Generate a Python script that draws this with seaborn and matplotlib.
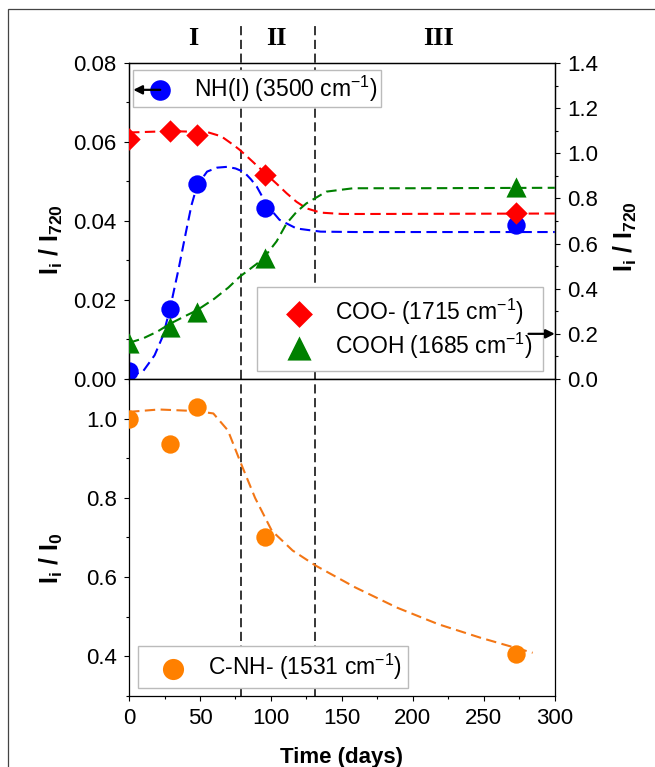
import numpy as np
import pandas as pd
import matplotlib
matplotlib.use("Agg")
import matplotlib.pyplot as plt
import seaborn as sns
from matplotlib.patches import Rectangle
from matplotlib.ticker import MultipleLocator, FormatStrFormatter

# ---------------- data ----------------
days = [0, 29, 48, 96, 273]
nh_3500 = [0.0020, 0.0177, 0.0493, 0.0433, 0.0390]      # left axis
coo_1715 = [1.063, 1.099, 1.081, 0.904, 0.735]          # right axis
cooh_1685 = [0.160, 0.230, 0.297, 0.536, 0.852]         # right axis
cnh_1531 = [1.000, 0.937, 1.030, 0.702, 0.407]          # bottom panel

# fitted (dashed) curves, read point by point
nh_fit_days = [0, 10, 18, 24, 29, 35, 40, 44, 48, 55, 62, 69, 75, 81, 86, 90, 97, 106, 118, 135, 160, 300]
nh_fit = [0.0005, 0.002, 0.006, 0.011, 0.018, 0.028, 0.037, 0.044, 0.049, 0.0525, 0.0535, 0.0537,
          0.0533, 0.0524, 0.0505, 0.0487, 0.0441, 0.0403, 0.0381, 0.0373, 0.0372, 0.0372]
coo_fit_days = [0, 29, 55, 65, 73.5, 78, 85, 96, 104, 111, 118, 125, 135, 150, 170, 300]
coo_fit = [1.092, 1.098, 1.094, 1.075, 1.037, 1.015, 0.975, 0.911, 0.865, 0.823, 0.785, 0.756,
           0.737, 0.731, 0.731, 0.733]
cooh_fit_days = [0, 10, 20, 29, 40, 48, 60, 70, 78, 90, 96, 104, 111, 118, 125, 139, 158, 200, 300]
cooh_fit = [0.160, 0.180, 0.210, 0.245, 0.280, 0.305, 0.355, 0.405, 0.453, 0.510, 0.545, 0.610,
            0.689, 0.740, 0.778, 0.830, 0.845, 0.845, 0.847]
cnh_fit_days = [0, 21, 47.6, 59.4, 69.7, 78.5, 88.8, 100.6, 115.3, 131.5, 159.4, 188.8, 218, 247.6, 284.4]
cnh_fit = [1.017, 1.023, 1.019, 1.013, 0.970, 0.890, 0.800, 0.717, 0.667, 0.629, 0.574, 0.523,
           0.481, 0.447, 0.409]

stage_bounds = [79, 131]
stage_labels = ["I", "II", "III"]
stage_label_x = [45, 104, 218]

labels = ["NH(I) (3500 cm$^{-1}$)", "COO- (1715 cm$^{-1}$)",
          "COOH (1685 cm$^{-1}$)", "C-NH- (1531 cm$^{-1}$)"]

# ---------------- style ----------------
sns.set_theme(style="white")
plt.rcParams.update({
    "font.family": ["Liberation Sans", "DejaVu Sans"],
    "mathtext.fontset": "custom",
    "mathtext.rm": "Liberation Sans",
    "mathtext.it": "Liberation Sans:italic",
    "mathtext.bf": "Liberation Sans:bold",
    "mathtext.default": "regular",
    "axes.edgecolor": "black",
    "axes.linewidth": 0.9,
    "xtick.direction": "out",
    "ytick.direction": "out",
    "xtick.major.size": 3.8,
    "ytick.major.size": 3.8,
    "xtick.minor.size": 2.5,
    "ytick.minor.size": 2.5,
    "xtick.major.width": 0.8,
    "ytick.major.width": 0.8,
    "xtick.minor.width": 0.8,
    "ytick.minor.width": 0.8,
    "xtick.color": "black",
    "ytick.color": "black",
    "xtick.labelsize": 16,
    "ytick.labelsize": 16,
    "xtick.major.pad": 5,
    "ytick.major.pad": 5,
    "axes.labelcolor": "black",
    "text.color": "black",
})

BLUE = "#0000FF"
RED = "#FF0000"
GREEN = "#008000"
ORANGE = "#FF8000"
ORANGE_LINE = "#F37615"
DASH = (0, (5, 2.6))
LEG_FS = 16.5

fig = plt.figure(figsize=(6.55, 7.67), dpi=100)
ax1 = fig.add_axes([0.197, 0.5059, 0.650, 0.412])
ax3 = fig.add_axes([0.197, 0.0926, 0.650, 0.4133])
ax2 = ax1.twinx()

# outer frame of the figure panel
fig.patches.append(Rectangle((8 / 655, -0.5), 2, 1.5 - 9 / 767, transform=fig.transFigure,
                             fill=False, edgecolor="#444444", lw=0.9))

# ---------------- top panel ----------------
sns.lineplot(x=nh_fit_days, y=nh_fit, ax=ax1, color=BLUE, lw=1.5, linestyle=DASH,
             sort=False, estimator=None, zorder=2)
sns.scatterplot(x=days, y=nh_3500, ax=ax1, color=BLUE, marker="o", s=175, linewidth=0,
                zorder=3, label=labels[0], legend=False)
h_nh = ax1.collections[-1]

sns.lineplot(x=coo_fit_days, y=coo_fit, ax=ax2, color=RED, lw=1.5, linestyle=DASH,
             sort=False, estimator=None, zorder=2)
sns.lineplot(x=cooh_fit_days, y=cooh_fit, ax=ax2, color=GREEN, lw=1.5, linestyle=DASH,
             sort=False, estimator=None, zorder=2)
sns.scatterplot(x=days, y=coo_1715, ax=ax2, color=RED, marker="D", s=130, linewidth=0,
                zorder=3, label=labels[1], legend=False)
h_coo = ax2.collections[-1]
sns.scatterplot(x=days, y=cooh_1685, ax=ax2, color=GREEN, marker="^", s=210, linewidth=0,
                zorder=3, label=labels[2], legend=False)
h_cooh = ax2.collections[-1]

ax1.set_xlim(0, 300)
ax1.set_ylim(0, 0.08)
ax2.set_ylim(0, 1.4)
ax1.xaxis.set_major_locator(MultipleLocator(50))
ax1.xaxis.set_minor_locator(MultipleLocator(25))
ax1.yaxis.set_major_locator(MultipleLocator(0.02))
ax1.yaxis.set_minor_locator(MultipleLocator(0.01))
ax1.yaxis.set_major_formatter(FormatStrFormatter("%.2f"))
ax2.yaxis.set_major_locator(MultipleLocator(0.2))
ax2.yaxis.set_minor_locator(MultipleLocator(0.1))
ax2.yaxis.set_major_formatter(FormatStrFormatter("%.1f"))
ax1.tick_params(axis="x", which="both", bottom=True, top=False, labelbottom=False)
ax1.tick_params(axis="y", which="both", left=True, right=False)
ax2.tick_params(axis="y", which="both", left=False, right=True)
for a in (ax1, ax2):
    a.grid(False)
    for sp in a.spines.values():
        sp.set_color("black")
        sp.set_linewidth(0.9)

ax1.set_xlabel("")
ax1.set_ylabel(r"$\mathbf{I_i\ /\ I_{720}}$", fontsize=18)
ax1.yaxis.set_label_coords(-0.15, 0.44)
ax2.set_ylabel(r"$\mathbf{I_i\ /\ I_{720}}$", fontsize=18)
ax2.yaxis.set_label_coords(1.134, 0.45)

leg1 = ax1.legend(handles=[h_nh], labels=[labels[0]], loc="upper left",
                  bbox_to_anchor=(0.009, 0.978), borderaxespad=0, borderpad=0.15,
                  handlelength=2.06, handletextpad=0.45, fontsize=LEG_FS, markerscale=1.12,
                  frameon=True, fancybox=False, edgecolor="#BBBBBB", framealpha=1)
leg1.get_frame().set_linewidth(1.0)
leg2 = ax2.legend(handles=[h_coo, h_cooh], labels=[labels[1], labels[2]], loc="lower left",
                  bbox_to_anchor=(0.30, 0.025), borderaxespad=0, borderpad=0.45,
                  labelspacing=0.15, handlelength=2.8, handletextpad=0.15, fontsize=LEG_FS,
                  markerscale=1.2, frameon=True, fancybox=False, edgecolor="#BBBBBB",
                  framealpha=1)
leg2.get_frame().set_linewidth(1.0)

# arrows pointing to the relevant axis
ax1.annotate("", xy=(3, 0.0732), xytext=(22, 0.0732),
             arrowprops=dict(arrowstyle="-|>", color="black", lw=1.6, mutation_scale=13,
                             shrinkA=0, shrinkB=0), zorder=8, annotation_clip=False)
ax2.annotate("", xy=(300, 0.2), xytext=(281.5, 0.2),
             arrowprops=dict(arrowstyle="-|>", color="black", lw=1.6, mutation_scale=13,
                             shrinkA=0, shrinkB=0), zorder=8, annotation_clip=False)

# ---------------- bottom panel ----------------
sns.lineplot(x=cnh_fit_days, y=cnh_fit, ax=ax3, color=ORANGE_LINE, lw=1.5, linestyle=DASH,
             sort=False, estimator=None, zorder=2)
sns.scatterplot(x=days, y=cnh_1531, ax=ax3, color=ORANGE, marker="o", s=175, linewidth=0,
                zorder=3, label=labels[3], legend=False)
h_cnh = ax3.collections[-1]
ax3.set_xlim(0, 300)
ax3.set_ylim(0.3, 1.1)
ax3.xaxis.set_major_locator(MultipleLocator(50))
ax3.xaxis.set_minor_locator(MultipleLocator(25))
ax3.set_yticks([0.4, 0.6, 0.8, 1.0])
ax3.yaxis.set_minor_locator(MultipleLocator(0.1))
ax3.yaxis.set_major_formatter(FormatStrFormatter("%.1f"))
ax3.tick_params(axis="x", which="both", bottom=True, top=False)
ax3.tick_params(axis="y", which="both", left=True, right=False)
ax3.grid(False)
for sp in ax3.spines.values():
    sp.set_color("black")
    sp.set_linewidth(0.9)
ax3.set_xlabel("Time (days)", fontsize=16, fontweight="bold")
ax3.xaxis.set_label_coords(0.5, -0.16)
ax3.set_ylabel(r"$\mathbf{I_i\ /\ I_0}$", fontsize=18)
ax3.yaxis.set_label_coords(-0.15, 0.435)

leg3 = ax3.legend(handles=[h_cnh], labels=[labels[3]], loc="lower left",
                  bbox_to_anchor=(0.021, 0.025), borderaxespad=0, borderpad=0.25,
                  handlelength=2.56, handletextpad=0.25, fontsize=LEG_FS, markerscale=1.15,
                  frameon=True, fancybox=False, edgecolor="#BBBBBB", framealpha=1)
leg3.get_frame().set_linewidth(1.0)

# ---------------- stage boundaries ----------------
for xb in stage_bounds:
    ax1.axvline(xb, ymin=0, ymax=1.123, color="black", lw=1.1, linestyle=(0, (6, 3)),
                clip_on=False, zorder=1)
    ax3.axvline(xb, ymin=0, ymax=1, color="black", lw=1.1, linestyle=(0, (6, 3)), zorder=1)

for xs, txt in zip(stage_label_x, stage_labels):
    ax1.text(xs, 1.079, txt, transform=ax1.get_xaxis_transform(), ha="center", va="center",
             fontfamily="Liberation Serif", fontweight="bold", fontsize=19)

fig.savefig("out.png", dpi=100)
